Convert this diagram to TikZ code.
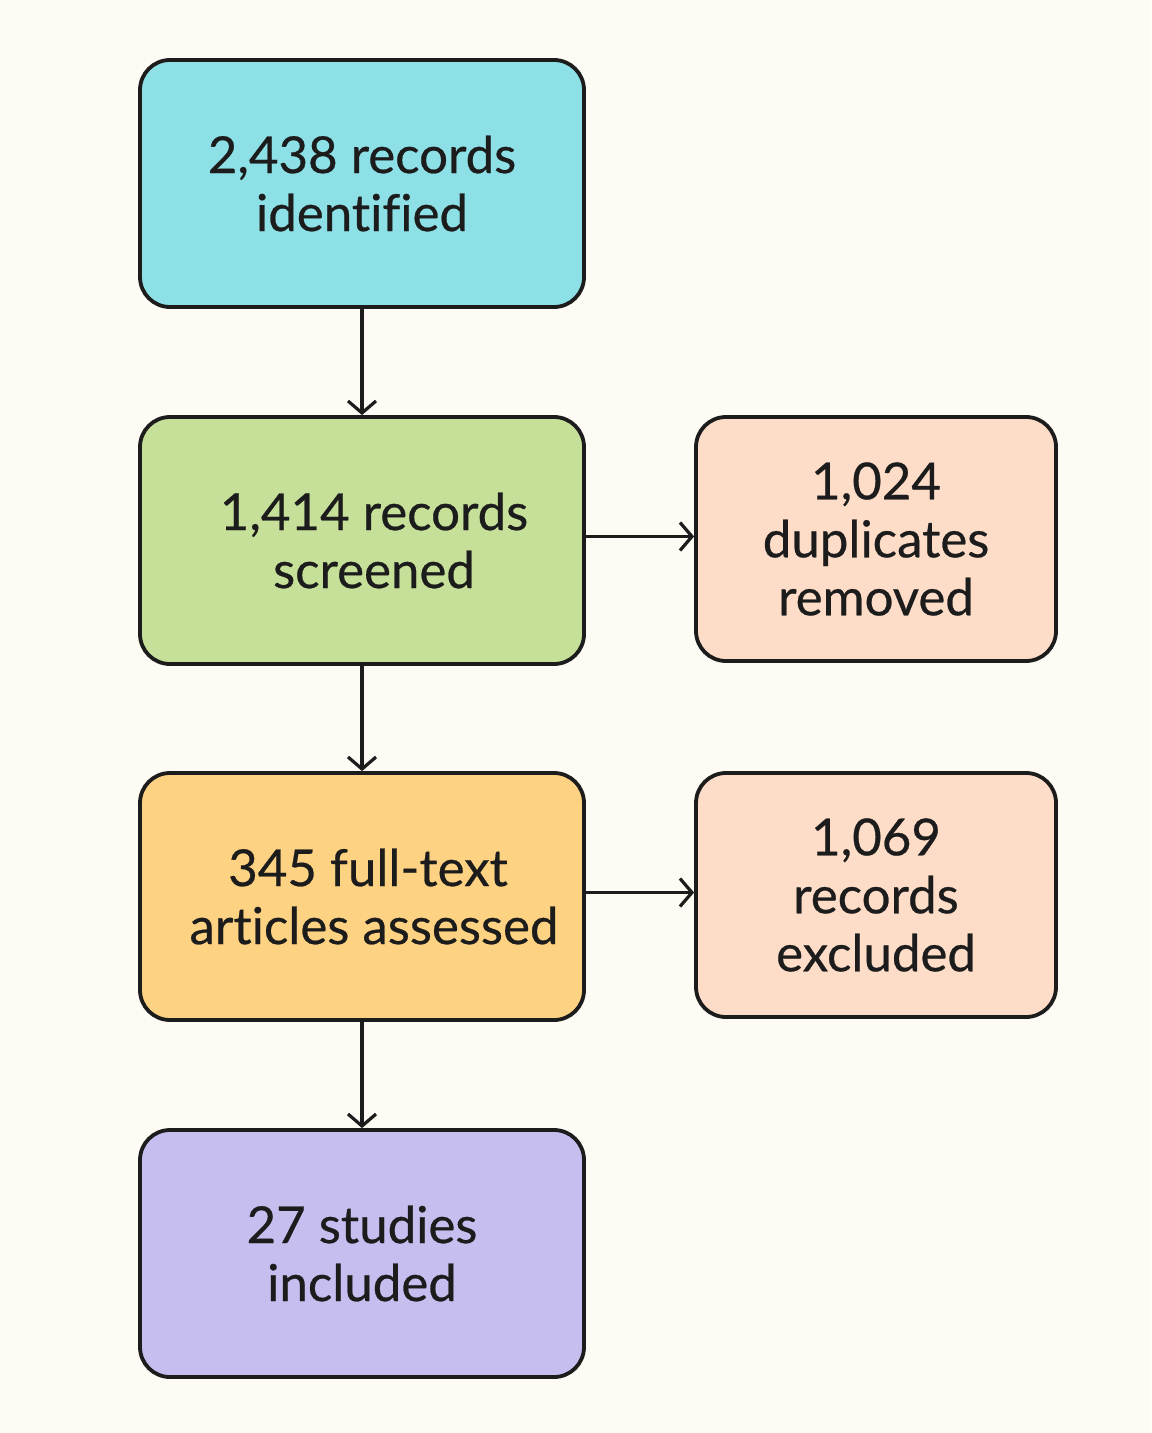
\documentclass[tikz,border=0pt]{standalone}
\usepackage{fontspec}
\setmainfont{Lato}[Ligatures=NoCommon, BoldFont={Lato}, BoldFeatures={FakeBold=0.5}]
\usetikzlibrary{arrows.meta}
\definecolor{bgc}{HTML}{FDFBF4}
\definecolor{cyanbox}{HTML}{8DE0E6}
\definecolor{greenbox}{HTML}{C6E09A}
\definecolor{orangebox}{HTML}{FDD282}
\definecolor{purplebox}{HTML}{C6BEEF}
\definecolor{peachbox}{HTML}{FDDCC8}
\definecolor{ink}{HTML}{1C1C1C}
\tikzset{
  mainbox/.style={draw=ink, line width=1.9pt, rounded corners=15pt,
    minimum width=222pt, minimum height=123.5pt, align=center,
    font=\fontsize{25.5}{29}\selectfont\bfseries, text=ink},
  sidebox/.style={mainbox, minimum width=180pt, minimum height=122pt},
  flow/.style={draw=ink, line width=1.6pt, -{Straight Barb[length=6pt,width=14pt,line width=1.6pt]}}
}
\begin{document}
\begin{tikzpicture}[x=0.5pt,y=-0.5pt]
\fill[bgc] (0,0) rectangle (1151,1433);
\useasboundingbox (0,0) rectangle (1151,1433);
\node[mainbox, fill=cyanbox] (b1) at (362,183.5) {2,438 records\\identified};
\node[mainbox, fill=greenbox] (b2) at (362,540.5) {\hspace*{12pt}1,414 records\\\hspace*{12pt}screened};
\node[mainbox, fill=orangebox] (b3) at (362,896.5) {\hspace*{6pt}345 full-text\\\hspace*{12pt}articles assessed};
\node[mainbox, fill=purplebox] (b4) at (362,1253.5) {27 studies\\included};
\node[sidebox, fill=peachbox] (s1) at (876,539) {1,024\\duplicates\\removed};
\node[sidebox, fill=peachbox] (s2) at (876,895) {1,069\\records\\excluded};
\draw[flow] (b1) -- (b2);
\draw[flow] (b2) -- (b3);
\draw[flow] (b3) -- (b4);
\draw[flow] ([yshift=2pt]b2.east) -- ([yshift=2pt]b2.east -| s1.west);
\draw[flow] ([yshift=2pt]b3.east) -- ([yshift=2pt]b3.east -| s2.west);
\end{tikzpicture}
\end{document}
